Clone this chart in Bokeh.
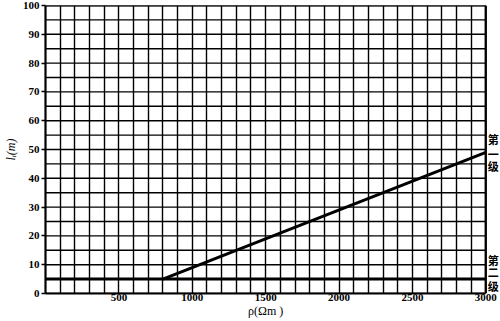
from bokeh.plotting import figure
from bokeh.models import FixedTicker, Range1d, LinearAxis
from bokeh.core.properties import value
from bokeh.embed import file_html
from bokeh.resources import INLINE

# data
rho_level1 = [800, 3000]
l_level1 = [5, 49]
rho_level2 = [0, 3000]
l_level2 = [5, 5]
x_ticks = [500, 1000, 1500, 2000, 2500, 3000]
y_ticks = [0, 10, 20, 30, 40, 50, 60, 70, 80, 90, 100]
x_grid = list(range(0, 3001, 100))
y_grid = list(range(0, 101, 5))
label1_chars = ["第", "一", "级"]
label1_y = [53.8, 48.6, 44.4]
label2_chars = ["第", "二", "级"]
label2_y = [11.5, 7.3, 2.6]
x_title = "ρ(Ωm )"
y_title = "lᵢ(m)"
x_max = 3000
y_max = 100

p = figure(width=500, height=321, output_backend="svg", toolbar_location=None,
           x_range=Range1d(0, 3100), y_range=Range1d(0, y_max),
           min_border_left=38, min_border_right=0, min_border_top=5, min_border_bottom=28)

serif = "Liberation Serif"
p.outline_line_color = None

p.xaxis.ticker = FixedTicker(ticks=x_ticks)
p.yaxis.ticker = FixedTicker(ticks=y_ticks)
p.xaxis.bounds = (0, x_max)
p.xgrid.ticker = FixedTicker(ticks=x_grid)
p.xgrid.grid_line_color = "black"
p.xgrid.grid_line_width = 1.4
p.xgrid.grid_line_alpha = 1.0
p.ygrid.visible = False

# horizontal grid lines limited to the data area
p.segment(x0=[0] * len(y_grid), x1=[x_max] * len(y_grid), y0=y_grid, y1=y_grid,
          line_color="black", line_width=1.4)
# frame top and right edges
p.segment(x0=[0, x_max], x1=[x_max, x_max], y0=[y_max, 0], y1=[y_max, y_max],
          line_color="black", line_width=2.2)

for ax in (p.xaxis, p.yaxis):
    ax.axis_line_color = "black"
    ax.axis_line_width = 2.2
    ax.major_label_text_font = serif
    ax.major_label_text_font_size = "11px"
    ax.major_label_text_font_style = "bold"
    ax.major_label_text_color = "black"
    ax.minor_tick_line_color = None
    ax.axis_label_text_font = serif
    ax.axis_label_text_font_size = "12px"
    ax.axis_label_text_font_style = "normal"
    ax.axis_label_text_color = "black"

p.xaxis.major_tick_line_color = None
p.xaxis.major_tick_out = 0
p.xaxis.major_tick_in = 0
p.xaxis.major_label_standoff = 0
p.yaxis.major_tick_in = 0
p.yaxis.major_tick_out = 4
p.yaxis.major_tick_line_width = 1.5
p.yaxis.major_label_standoff = 2
p.yaxis.axis_label = y_title
p.yaxis.axis_label_standoff = 2
p.yaxis.axis_label_text_font_style = "italic"

# x title drawn as a single tick label of a second bottom axis
tax = LinearAxis(ticker=FixedTicker(ticks=[1500]), major_label_overrides={1500: x_title},
                 axis_line_color=None, major_tick_line_color=None, minor_tick_line_color=None,
                 major_tick_in=0, major_tick_out=0, major_label_standoff=0,
                 major_label_text_font=serif, major_label_text_font_size="12px",
                 major_label_text_color="black")
p.add_layout(tax, "below")

p.line(rho_level2, l_level2, line_color="black", line_width=3)
p.line(rho_level1, l_level1, line_color="black", line_width=3)

cjk = value("Noto Sans CJK SC")
p.text(x=[x_max] * 3, y=label1_y, text=label1_chars, x_offset=2, text_font=cjk,
       text_font_size=value("11px"), text_font_style="bold", text_baseline="middle",
       text_align="left", text_color="black")
p.text(x=[x_max] * 3, y=label2_y, text=label2_chars, x_offset=2, text_font=cjk,
       text_font_size=value("11px"), text_font_style="bold", text_baseline="middle",
       text_align="left", text_color="black")

open("out.html", "w").write(file_html(p, INLINE))
